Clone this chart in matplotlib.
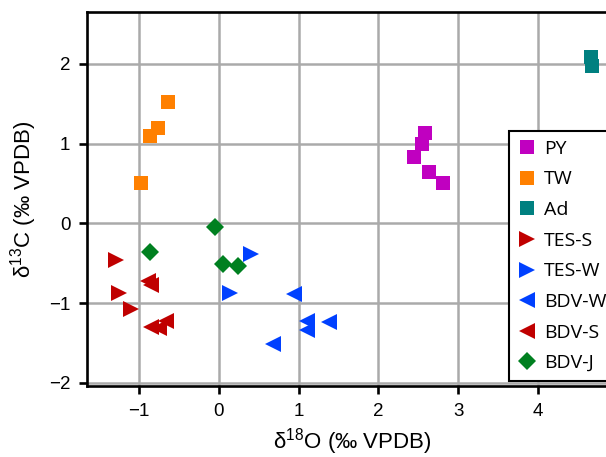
import matplotlib
matplotlib.use("Agg")
import matplotlib.pyplot as plt

plt.rcParams["font.family"] = ["Liberation Sans", "DejaVu Sans"]
plt.rcParams["mathtext.default"] = "regular"

# data (d18O, d13C)
py_x = [2.59, 2.55, 2.44, 2.64, 2.81]
py_y = [1.13, 0.99, 0.83, 0.64, 0.50]
tw_x = [-0.63, -0.76, -0.86, -0.98]
tw_y = [1.52, 1.20, 1.09, 0.50]
ad_x = [4.66, 4.67]
ad_y = [2.08, 1.97]
tess_x = [-1.29, -1.25, -1.10]
tess_y = [-0.46, -0.87, -1.08]
tesw_x = [0.41, 0.14]
tesw_y = [-0.39, -0.88]
bdvw_x = [0.94, 1.10, 1.10, 1.38, 0.68]
bdvw_y = [-0.89, -1.23, -1.34, -1.24, -1.51]
bdvs_x = [-0.88, -0.85, -0.66, -0.85, -0.75]
bdvs_y = [-0.72, -0.77, -1.22, -1.30, -1.31]
bdvj_x = [-0.05, -0.86, 0.05, 0.24]
bdvj_y = [-0.05, -0.36, -0.51, -0.54]

series = [
    ("PY", py_x, py_y, "s", "#c000c0"),
    ("TW", tw_x, tw_y, "s", "#ff8000"),
    ("Ad", ad_x, ad_y, "s", "#008080"),
    ("TES-S", tess_x, tess_y, ">", "#c00000"),
    ("TES-W", tesw_x, tesw_y, ">", "#0040ff"),
    ("BDV-W", bdvw_x, bdvw_y, "<", "#0040ff"),
    ("BDV-S", bdvs_x, bdvs_y, "<", "#c00000"),
    ("BDV-J", bdvj_x, bdvj_y, "D", "#008020"),
]

fig = plt.figure(figsize=(6.06, 4.57), dpi=100)
ax = fig.add_axes([0.1436, 0.1554, 0.876, 0.8184])

for name, xs, ys, mk, col in series:
    ms = 10 if mk == "s" else (9 if mk == "D" else 11)
    ax.plot(xs, ys, linestyle="none", marker=mk, color=col, markersize=ms,
            markeredgewidth=0, label=name, zorder=3)

ax.set_xlim(-1.65, 5.0)
ax.set_ylim(-2.04, 2.65)
ax.set_xticks([-1, 0, 1, 2, 3, 4])
ax.set_yticks([-2, -1, 0, 1, 2])
ax.set_xticklabels(["\u22121", "0", "1", "2", "3", "4"])
ax.set_yticklabels(["\u22122", "\u22121", "0", "1", "2"])
ax.grid(True, color="#aaaaaa", linewidth=1.8)
ax.set_axisbelow(True)
for s in ax.spines.values():
    s.set_linewidth(1.9)
ax.tick_params(direction="out", length=6, width=1.9, labelsize=13.5, pad=6)

ax.set_xlabel("δ$^{18}$O (‰ VPDB)", fontsize=16, labelpad=5)
ax.set_ylabel("δ$^{13}$C (‰ VPDB)", fontsize=16, labelpad=7)

leg = fig.legend(loc="upper left", bbox_to_anchor=(509 / 606, 1 - 131 / 457),
                 prop={"family": "Open Sans", "size": 14}, frameon=True,
                 fancybox=False, handlelength=1.0, handletextpad=0.35,
                 labelspacing=0.65, borderpad=0.45, borderaxespad=0)
leg.get_frame().set_edgecolor("black")
leg.get_frame().set_linewidth(1.5)
leg.get_frame().set_alpha(1)

fig.savefig("out.png", dpi=100)
